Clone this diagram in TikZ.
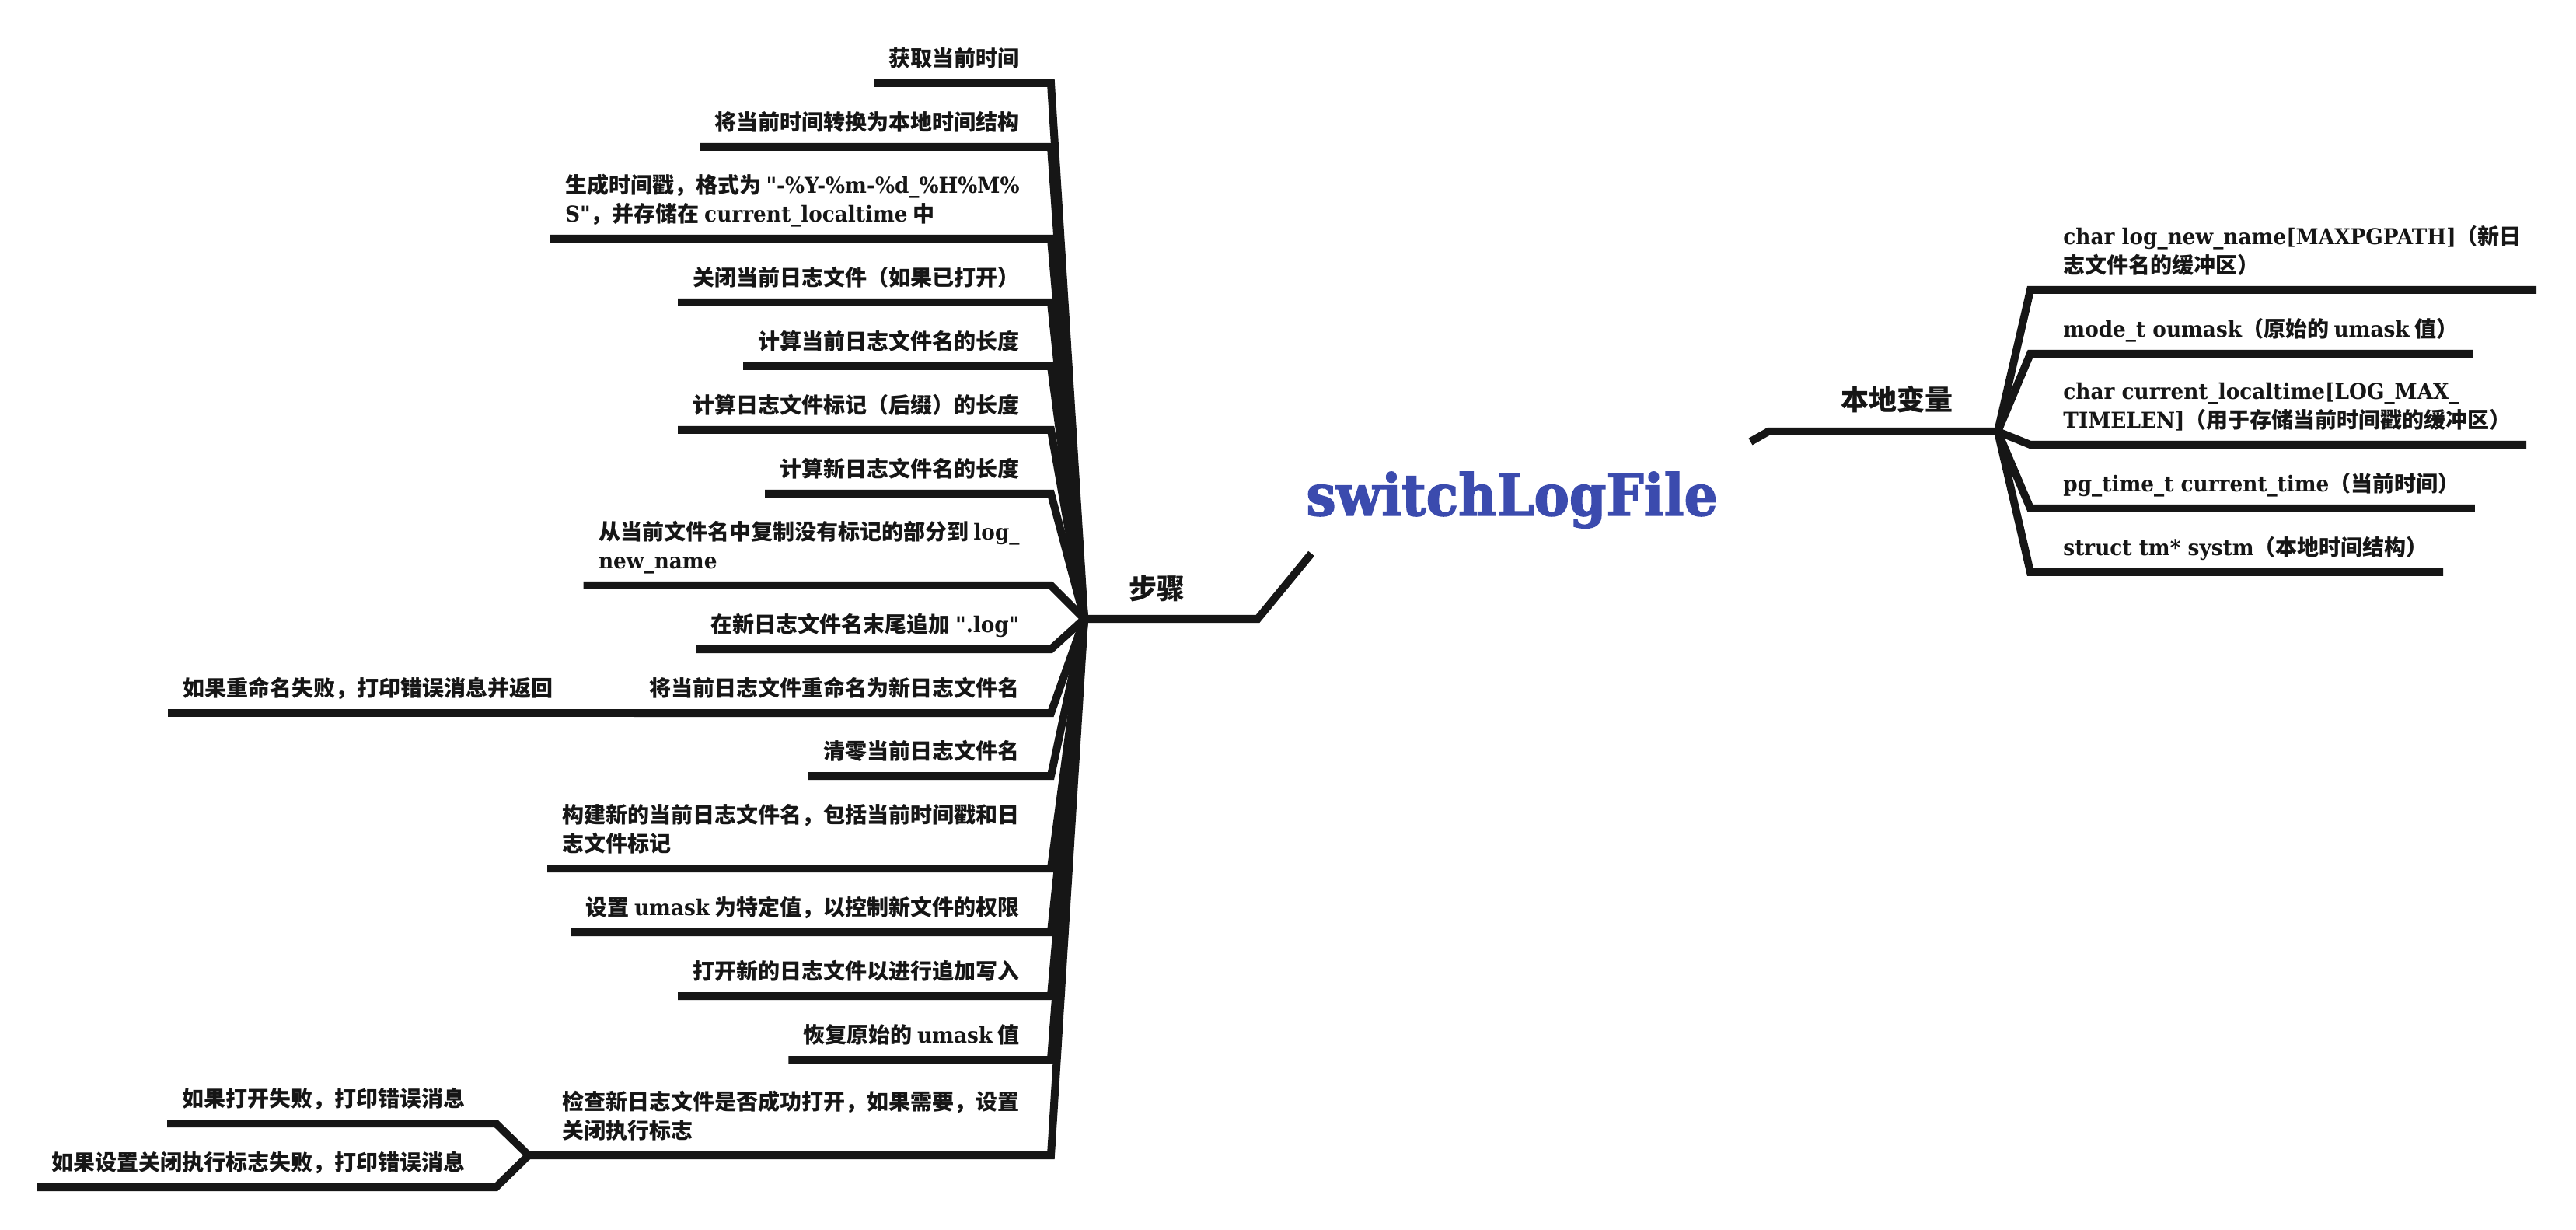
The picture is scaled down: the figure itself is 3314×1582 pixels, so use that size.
\documentclass[tikz,border=0pt]{standalone}
\usepackage{fontspec}
\setmainfont{Noto Sans CJK SC}
\newfontfamily\latf{DejaVu Serif}[FakeStretch=0.94]
\newfontfamily\titlef{DejaVu Serif}[FakeStretch=0.92,FakeBold=2]
\newcommand\lat[1]{{\latf\bfseries #1}}
\newcommand\lastdp{\rule[-0.32em]{0pt}{0.32em}}
\definecolor{ink}{HTML}{161616}
\definecolor{titleblue}{HTML}{3B4BAE}
\tikzset{
  branchline/.style={draw=ink, line width=5pt, line join=miter},
  leafbox/.style={font=\fontsize{14}{18.5}\selectfont\bfseries, text=ink, inner xsep=9.5pt, inner ysep=0pt, align=left},
  lleaf/.style={leafbox, anchor=south east},
  rleaf/.style={leafbox, anchor=south west},
  grouplbl/.style={font=\fontsize{18}{22}\selectfont\bfseries, text=ink, inner sep=0pt, anchor=base},
}
\begin{document}
\begin{tikzpicture}[x=0.5pt,y=-0.5pt]
\fill[white] (0,0) rectangle (3314,1582);
\path[use as bounding box] (0,0) rectangle (3314,1582);

% central topic
\node[font={\titlef\bfseries\fontsize{37}{40}\selectfont}, text=titleblue, anchor=base west, inner sep=0pt] (title) at (1680,663) {switchLogFile};
\coordinate (tL) at (1687,712);
\coordinate (tR) at (2252,568);

% main branches
\coordinate (sK) at (1618,796);
\coordinate (S) at (1395,796);
\coordinate (vK) at (2275,555);
\coordinate (V) at (2570,555);
\draw[branchline] (tL) -- (sK) -- (S);
\draw[branchline] (tR) -- (vK) -- (V);
\node[grouplbl] (steps) at (1488,770) {步骤};
\node[grouplbl] (locals) at (2440,528) {本地变量};

% left children (steps)
\node[lleaf] (c1) at (1331,95) {获取当前时间\lastdp};
\node[lleaf] (c2) at (1331,177) {将当前时间转换为本地时间结构\lastdp};
\node[lleaf] (c3) at (1331,295) {生成时间戳，格式为 \lat{"-\%Y-\%m-\%d\_\%H\%M\%}\\\lat{S"}，并存储在 \lat{current\_localtime} 中\lastdp};
\node[lleaf] (c4) at (1331,377) {关闭当前日志文件（如果已打开）\lastdp};
\node[lleaf] (c5) at (1331,459) {计算当前日志文件名的长度\lastdp};
\node[lleaf] (c6) at (1331,541) {计算日志文件标记（后缀）的长度\lastdp};
\node[lleaf] (c7) at (1331,623) {计算新日志文件名的长度\lastdp};
\node[lleaf] (c8) at (1331,741) {从当前文件名中复制没有标记的部分到 \lat{log\_}\\\lat{new\_name}\lastdp};
\node[lleaf] (c9) at (1331,823) {在新日志文件名末尾追加 \lat{".log"}\lastdp};
\node[lleaf] (c10) at (1331,905) {将当前日志文件重命名为新日志文件名\lastdp};
\node[lleaf] (c11) at (1331,986) {清零当前日志文件名\lastdp};
\node[lleaf] (c12) at (1331,1105) {构建新的当前日志文件名，包括当前时间戳和日\\志文件标记\lastdp};
\node[lleaf] (c13) at (1331,1187) {设置 \lat{umask} 为特定值，以控制新文件的权限\lastdp};
\node[lleaf] (c14) at (1331,1269) {打开新的日志文件以进行追加写入\lastdp};
\node[lleaf] (c15) at (1331,1351) {恢复原始的 \lat{umask} 值\lastdp};
\node[lleaf] (c16) at (1331,1474) {检查新日志文件是否成功打开，如果需要，设置\\关闭执行标志\lastdp};
% grandchildren
\node[lleaf] (g10) at (731,905) {如果重命名失败，打印错误消息并返回\lastdp};
\node[lleaf] (g16a) at (618,1433) {如果打开失败，打印错误消息\lastdp};
\node[lleaf] (g16b) at (618,1515) {如果设置关闭执行标志失败，打印错误消息\lastdp};

% left corners
\coordinate (k1) at (1352,107);
\coordinate (k2) at (1352,189);
\coordinate (k3) at (1352,307);
\coordinate (k4) at (1352,389);
\coordinate (k5) at (1352,471);
\coordinate (k6) at (1352,553);
\coordinate (k7) at (1352,635);
\coordinate (k8) at (1352,753);
\coordinate (k9) at (1352,835);
\coordinate (k10) at (1352,917);
\coordinate (k11) at (1352,998);
\coordinate (k12) at (1352,1117);
\coordinate (k13) at (1352,1199);
\coordinate (k14) at (1352,1281);
\coordinate (k15) at (1352,1363);
\coordinate (k16) at (1352,1486);
\foreach \i in {1,...,16}{
  \draw[branchline] (S) -- (k\i) -- (c\i.west |- k\i);
}
\draw[branchline] (c10.west |- k10) -- (g10.west |- k10);
\coordinate (j16) at (680,1486);
\coordinate (ka) at (638,1445);
\coordinate (kb) at (638,1527);
\draw[branchline] (c16.west |- k16) -- (j16) -- (ka) -- (g16a.west |- ka);
\draw[branchline] (j16) -- (kb) -- (g16b.west |- kb);

% right children (local variables)
\node[rleaf] (r1) at (2635,361) {\lat{char log\_new\_name[MAXPGPATH]}（新日\\志文件名的缓冲区）\lastdp};
\node[rleaf] (r2) at (2635,443) {\lat{mode\_t oumask}（原始的 \lat{umask} 值）\lastdp};
\node[rleaf] (r3) at (2635,560) {\lat{char current\_localtime[LOG\_MAX\_}\\\lat{TIMELEN]}（用于存储当前时间戳的缓冲区）\lastdp};
\node[rleaf] (r4) at (2635,642) {\lat{pg\_time\_t current\_time}（当前时间）\lastdp};
\node[rleaf] (r5) at (2635,724) {\lat{struct tm* systm}（本地时间结构）\lastdp};
\coordinate (q1) at (2612,373);
\coordinate (q2) at (2612,455);
\coordinate (q3) at (2612,572);
\coordinate (q4) at (2612,654);
\coordinate (q5) at (2612,736);
\foreach \i in {1,...,5}{
  \draw[branchline] (V) -- (q\i) -- (r\i.east |- q\i);
}
\end{tikzpicture}
\end{document}
